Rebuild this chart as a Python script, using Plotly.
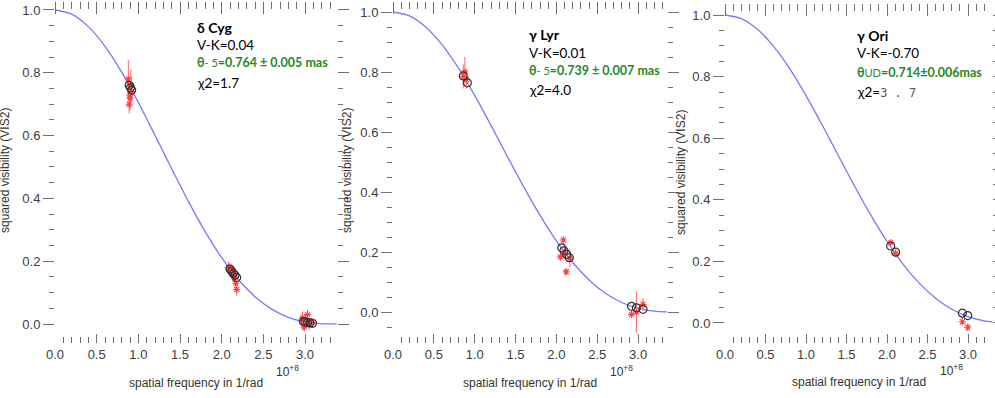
import plotly.graph_objects as go

W, H = 995, 398

# ---------------- data ----------------
CURVE_FREQ = [0.0, 0.2, 0.4, 0.6, 0.8, 1.0, 1.2, 1.4, 1.6, 1.8, 2.0, 2.2, 2.4, 2.6, 2.8, 3.0, 3.2, 3.4]
CYG_CURVE = [1.0, 0.9866, 0.9470, 0.8841, 0.8020, 0.7056, 0.6011, 0.4942, 0.3906, 0.2950,
             0.2113, 0.1416, 0.0871, 0.0475, 0.0213, 0.0065, 0.0006, 0.0006]
LYR_CURVE = [1.0, 0.9874, 0.9504, 0.8913, 0.8136, 0.7221, 0.6220, 0.5186, 0.4171, 0.3221,
             0.2372, 0.1649, 0.1069, 0.0625, 0.0317, 0.0125, 0.0028, 0.0000]
ORI_CURVE = [1.0, 0.9882, 0.9536, 0.8982, 0.8251, 0.7384, 0.6427, 0.5431, 0.4441, 0.3501,
             0.2646, 0.1903, 0.1286, 0.0802, 0.0447, 0.0209, 0.0070, 0.0009]

CYG_OBS_FREQ = [0.88, 0.89, 0.90, 0.91, 0.92, 0.90, 2.08, 2.10, 2.11, 2.12, 2.13, 2.15, 2.17, 2.18,
                2.97, 2.99, 3.01, 3.03, 3.05, 3.08]
CYG_OBS_VIS2 = [0.78, 0.70, 0.73, 0.76, 0.74, 0.72, 0.18, 0.175, 0.17, 0.165, 0.16, 0.15, 0.13, 0.11,
                0.02, -0.01, 0.01, 0.03, 0.0, 0.005]
CYG_OBS_ERR = [0.06, 0.03, 0.04, 0.05, 0.03, 0.04, 0.02, 0.02, 0.015, 0.02, 0.025, 0.02, 0.02, 0.02,
               0.02, 0.015, 0.02, 0.015, 0.02, 0.015]
CYG_MOD_FREQ = [0.89, 0.905, 0.92, 2.10, 2.12, 2.14, 2.16, 2.18, 2.98, 3.00, 3.03, 3.06, 3.09]
CYG_MOD_VIS2 = [0.760, 0.752, 0.745, 0.175, 0.168, 0.161, 0.155, 0.148, 0.008, 0.0065, 0.005, 0.0035, 0.002]

LYR_OBS_FREQ = [0.86, 0.88, 0.90, 2.05, 2.085, 2.10, 2.12, 2.165, 2.92, 2.98, 3.06]
LYR_OBS_VIS2 = [0.785, 0.80, 0.775, 0.184, 0.240, 0.20, 0.134, 0.179, -0.008, 0.0, 0.025]
LYR_OBS_ERR = [0.04, 0.05, 0.03, 0.012, 0.012, 0.02, 0.012, 0.03, 0.01, 0.068, 0.02]
LYR_MOD_FREQ = [0.86, 0.91, 2.065, 2.093, 2.126, 2.158, 2.92, 2.98, 3.06]
LYR_MOD_VIS2 = [0.787, 0.764, 0.214, 0.204, 0.192, 0.181, 0.019, 0.014, 0.009]

ORI_OBS_FREQ = [2.045, 2.107, 2.930, 2.996]
ORI_OBS_VIS2 = [0.261, 0.226, 0.004, -0.014]
ORI_OBS_ERR = [0.008, 0.012, 0.012, 0.012]
ORI_MOD_FREQ = [2.045, 2.107, 2.930, 2.996]
ORI_MOD_VIS2 = [0.250, 0.230, 0.032, 0.024]

X_TICKS = [0.0, 0.5, 1.0, 1.5, 2.0, 2.5, 3.0]
X_TICK_TEXT = ["0.0", "0.5", "1.0", "1.5", "2.0", "2.5", "3.0"]
Y_TICKS = [0.0, 0.2, 0.4, 0.6, 0.8, 1.0]
Y_TICK_TEXT = ["0.0", "0.2", "0.4", "0.6", "0.8", "1.0"]

STARS = ["δ Cyg", "γ Lyr", "γ Ori"]
COLOURS_VK = ["V-K=0.04", "V-K=0.01", "V-K=-0.70"]

# ---------------- styling ----------------
AXIS_FONT = dict(family="Liberation Sans, Arial, sans-serif", size=13, color="#3c3c3c")
TITLE_FAMILY = "Liberation Sans, Arial, sans-serif"
NOTE_FONT = "Lato, 'Noto Sans', sans-serif"
GREEN = "#1f8a1f"
CURVE_COLOR = "#7878ff"
TICK_COLOR = "#707070"

# panels: pixel boxes of each plot area and its data ranges
panels = [
    dict(x0=55, x1=337, xmax=3.384, y0=1, y1=343, yr=[-0.0605, 1.0286], minor_neg=False),
    dict(x0=393, x1=667, xmax=3.354, y0=1, y1=343, yr=[-0.1033, 1.0367], minor_neg=True),
    dict(x0=725, x1=992, xmax=3.296, y0=3, y1=343, yr=[-0.065, 1.039], minor_neg=False),
]

curves = [CYG_CURVE, LYR_CURVE, ORI_CURVE]
obs = [(CYG_OBS_FREQ, CYG_OBS_VIS2, CYG_OBS_ERR), (LYR_OBS_FREQ, LYR_OBS_VIS2, LYR_OBS_ERR),
       (ORI_OBS_FREQ, ORI_OBS_VIS2, ORI_OBS_ERR)]
mods = [(CYG_MOD_FREQ, CYG_MOD_VIS2), (LYR_MOD_FREQ, LYR_MOD_VIS2), (ORI_MOD_FREQ, ORI_MOD_VIS2)]

fig = go.Figure()
layout_axes = {}

for i, p in enumerate(panels):
    n = "" if i == 0 else str(i + 1)
    xa, ya = "x" + n, "y" + n
    xt = "x" + str(i + 4)  # free axis at the top edge carrying the upper ticks
    fig.add_trace(go.Scatter(x=CURVE_FREQ, y=curves[i], mode="lines", xaxis=xa, yaxis=ya,
                             line=dict(color=CURVE_COLOR, width=1.3, shape="spline", smoothing=0.8),
                             hoverinfo="skip", showlegend=False))
    fig.add_trace(go.Scatter(x=CURVE_FREQ, y=curves[i], mode="lines", xaxis=xt, yaxis=ya,
                             line=dict(color="rgba(0,0,0,0)", width=0),
                             hoverinfo="skip", showlegend=False))
    fx, fy, fe = obs[i]
    fig.add_trace(go.Scatter(x=fx, y=fy, mode="markers", xaxis=xa, yaxis=ya,
                             marker=dict(symbol="asterisk-open", size=6, color="#ff4040",
                                         line=dict(color="#ff4040", width=1.1)),
                             error_y=dict(type="data", array=fe, visible=True, color="rgba(255,70,70,0.75)",
                                          thickness=1.1, width=0),
                             showlegend=False))
    mx, my = mods[i]
    fig.add_trace(go.Scatter(x=mx, y=my, mode="markers", xaxis=xa, yaxis=ya,
                             marker=dict(symbol="circle-open", size=8, color="#333333",
                                         line=dict(color="#333333", width=1.2)),
                             showlegend=False))

    minor_y = [v / 100 for v in range(5, 105, 5) if v % 20 != 0]
    if p["minor_neg"]:
        minor_y = [-0.05] + minor_y
    minor_x = [v / 10 for v in range(1, 34) if v % 5 != 0 and v / 10 <= p["xmax"]]

    xcommon = dict(
        range=[0, p["xmax"]], showline=False, showgrid=False, zeroline=False, automargin=False,
        tickwidth=1, tickcolor=TICK_COLOR,
        tickmode="array", tickvals=X_TICKS, ticktext=X_TICK_TEXT, tickfont=AXIS_FONT,
    )
    layout_axes["xaxis" + n] = dict(
        domain=[p["x0"] / W, p["x1"] / W], anchor=ya, ticks="inside", ticklen=9,
        ticklabelstandoff=2,
        minor=dict(ticks="inside", ticklen=6, tickwidth=1, tickcolor=TICK_COLOR,
                   tickmode="array", tickvals=minor_x, showgrid=False),
        **xcommon)
    # bottom-sided axis placed at the top edge: its outside ticks hang down into the plot
    layout_axes["xaxis" + str(i + 4)] = dict(
        overlaying=xa, side="bottom", anchor="free", position=1 - p["y0"] / H,
        showticklabels=False, ticks="outside", ticklen=12,
        minor=dict(ticks="outside", ticklen=7, tickwidth=1, tickcolor=TICK_COLOR,
                   tickmode="array", tickvals=minor_x, showgrid=False),
        **xcommon)
    layout_axes["yaxis" + n] = dict(
        domain=[1 - p["y1"] / H, 1 - p["y0"] / H], range=p["yr"], anchor=xa,
        showline=False, showgrid=False, zeroline=False, automargin=False,
        ticks="outside", ticklen=11, tickwidth=1, tickcolor=TICK_COLOR, mirror="ticks",
        tickmode="array", tickvals=Y_TICKS, ticktext=Y_TICK_TEXT, tickfont=AXIS_FONT,
        minor=dict(ticks="outside", ticklen=5, tickwidth=1, tickcolor=TICK_COLOR,
                   tickmode="array", tickvals=minor_y, showgrid=False),
    )

annotations = []


def note(px, py, text, size=14, color="black", angle=0, xanchor="left", family=NOTE_FONT):
    annotations.append(dict(x=px / W, y=1 - py / H, xref="paper", yref="paper", text=text,
                            showarrow=False, xanchor=xanchor, yanchor="middle", textangle=angle,
                            font=dict(family=family, size=size, color=color)))


# axis titles
ytitle_pos = [(5, 171), (347, 171), (681, 173)]
xtitle_pos = [(196, 383), (530, 383), (859, 382)]
exp_pos = [(274, 371), (608, 371), (938, 370)]
for i in range(3):
    note(*ytitle_pos[i], "squared visibility (VIS2)", size=12, color="#333333", angle=-90,
         xanchor="center", family=TITLE_FAMILY)
    note(*xtitle_pos[i], "spatial frequency in 1/rad", size=12, color="#333333",
         xanchor="center", family=TITLE_FAMILY)
    note(*exp_pos[i], "10<sup>+8</sup>", size=12, color="#333333", family=TITLE_FAMILY)

# star labels
label_pos = [(195, [27, 45, 63, 83]), (527, [34, 53, 71, 90]), (855, [35, 53, 72, 92])]
thetas = [
    "<b>θ</b><span style='font-size:11px'>- 5</span><b>=0.764 ± 0.005 mas</b>",
    "<b>θ</b><span style='font-size:11px'>- 5</span><b>=0.739 ± 0.007 mas</b>",
    "<b>θ</b><span style='font-size:11px'>UD</span><b>=0.714±0.006mas</b>",
]
chis = [
    "χ2=1.7",
    "χ2=4.0",
    "χ2=<span style='font-family:DejaVu Sans Mono;font-size:12px;color:#555555'>3 . 7</span>",
]
for i, (lx, ys) in enumerate(label_pos):
    note(lx, ys[0], "<b>" + STARS[i] + "</b>", size=14)
    note(lx, ys[1], COLOURS_VK[i], size=13.5)
    note(lx, ys[2], thetas[i], size=12.5, color=GREEN)
    note(lx, ys[3], chis[i], size=13.5)

fig.update_layout(
    width=W, height=H, margin=dict(l=0, r=0, t=0, b=0, autoexpand=False),
    paper_bgcolor="white", plot_bgcolor="white",
    annotations=annotations, **layout_axes,
)

fig.write_html(
    "out.html",
    config={"displayModeBar": False},
    post_script="document.body.style.margin='0';document.body.style.padding='0';"
                "document.body.style.overflow='hidden';",
)
